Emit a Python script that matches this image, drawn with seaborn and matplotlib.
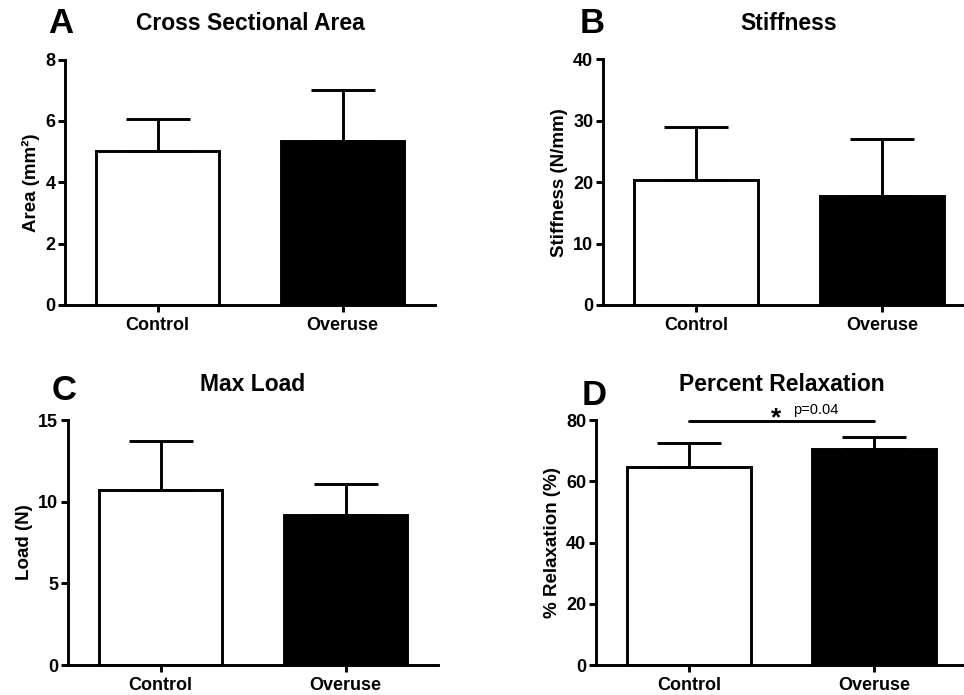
import matplotlib
matplotlib.use("Agg")
import matplotlib.pyplot as plt
import seaborn as sns

# data (mean and upper SD bar)
groups = ["Control", "Overuse"]
area_mean = [5.01, 5.33]
area_sd = [1.05, 1.67]
stiff_mean = [20.4, 17.8]
stiff_sd = [8.6, 9.3]
load_mean = [10.7, 9.18]
load_sd = [3.03, 1.88]
relax_mean = [64.8, 70.4]
relax_sd = [7.6, 4.1]
p_text = "p=0.04"

sns.set_style("ticks")
plt.rcParams["font.family"] = ["Liberation Sans", "DejaVu Sans"]
plt.rcParams["font.weight"] = "bold"
plt.rcParams["axes.labelweight"] = "bold"
plt.rcParams["axes.titleweight"] = "bold"
plt.rcParams["text.color"] = "black"
plt.rcParams["axes.labelcolor"] = "black"
plt.rcParams["xtick.color"] = "black"
plt.rcParams["ytick.color"] = "black"

fig = plt.figure(figsize=(9.64, 6.95), dpi=100)

panels = [
    # letter, title, ylabel, means, sds, ylim, yticks, axes rect, letter pos
    ("A", "Cross Sectional Area", "Area (mm²)", area_mean, area_sd, 8, [0, 2, 4, 6, 8],
     [65/964, 1-305/695, 370/964, 245.5/695], (48/964, 1-33/695)),
    ("B", "Stiffness", "Stiffness (N/mm)", stiff_mean, stiff_sd, 40, [0, 10, 20, 30, 40],
     [603/964, 1-305/695, 372/964, 245.5/695], (580/964, 1-33/695)),
    ("C", "Max Load", "Load (N)", load_mean, load_sd, 15, [0, 5, 10, 15],
     [68/964, 1-665/695, 370/964, 245/695], (52/964, 1-400/695)),
    ("D", "Percent Relaxation", "% Relaxation (%)", relax_mean, relax_sd, 80, [0, 20, 40, 60, 80],
     [596/964, 1-665/695, 371/964, 245/695], (582/964, 1-405/695)),
]

axes = {}
for letter, title, ylabel, means, sds, ymax, yticks, rect, lpos in panels:
    ax = fig.add_axes(rect)
    sns.barplot(x=groups, y=means, hue=groups, palette=["white", "black"],
                edgecolor="black", linewidth=2.1, width=0.67, legend=False,
                saturation=1, ax=ax)
    ax.errorbar(x=[0, 1], y=means, yerr=[[0, 0], sds], fmt="none", ecolor="black",
                elinewidth=2.1, capsize=23, capthick=2.1, zorder=1)
    ax.set_xlim(-0.5, 1.5)
    ax.set_ylim(0, ymax)
    ax.set_yticks(yticks)
    ax.set_title(title, fontsize=16.5, pad=21)
    ax.set_ylabel(ylabel, fontsize=13.5)
    ax.set_xlabel("")
    ax.tick_params(axis="both", labelsize=13, width=2.1, length=5, pad=2)
    ax.tick_params(axis="x", pad=4)
    sns.despine(ax=ax)
    for s in ["left", "bottom"]:
        ax.spines[s].set_linewidth(2.1)
        ax.spines[s].set_color("black")
    fig.text(lpos[0], lpos[1], letter, fontsize=25, fontweight="bold", ha="left", va="baseline")
    axes[letter] = ax

# significance bar on panel D
axD = axes["D"]
axD.plot([0, 1], [79.7, 79.7], color="black", lw=2.1, clip_on=False)
axD.text(0.47, 78.4, "*", fontsize=19, ha="center", va="baseline", clip_on=False)
axD.text(0.56, 83.3, p_text, fontsize=10.5, fontweight="normal", ha="left", va="center", clip_on=False)

plt.savefig("out.png", dpi=100)
